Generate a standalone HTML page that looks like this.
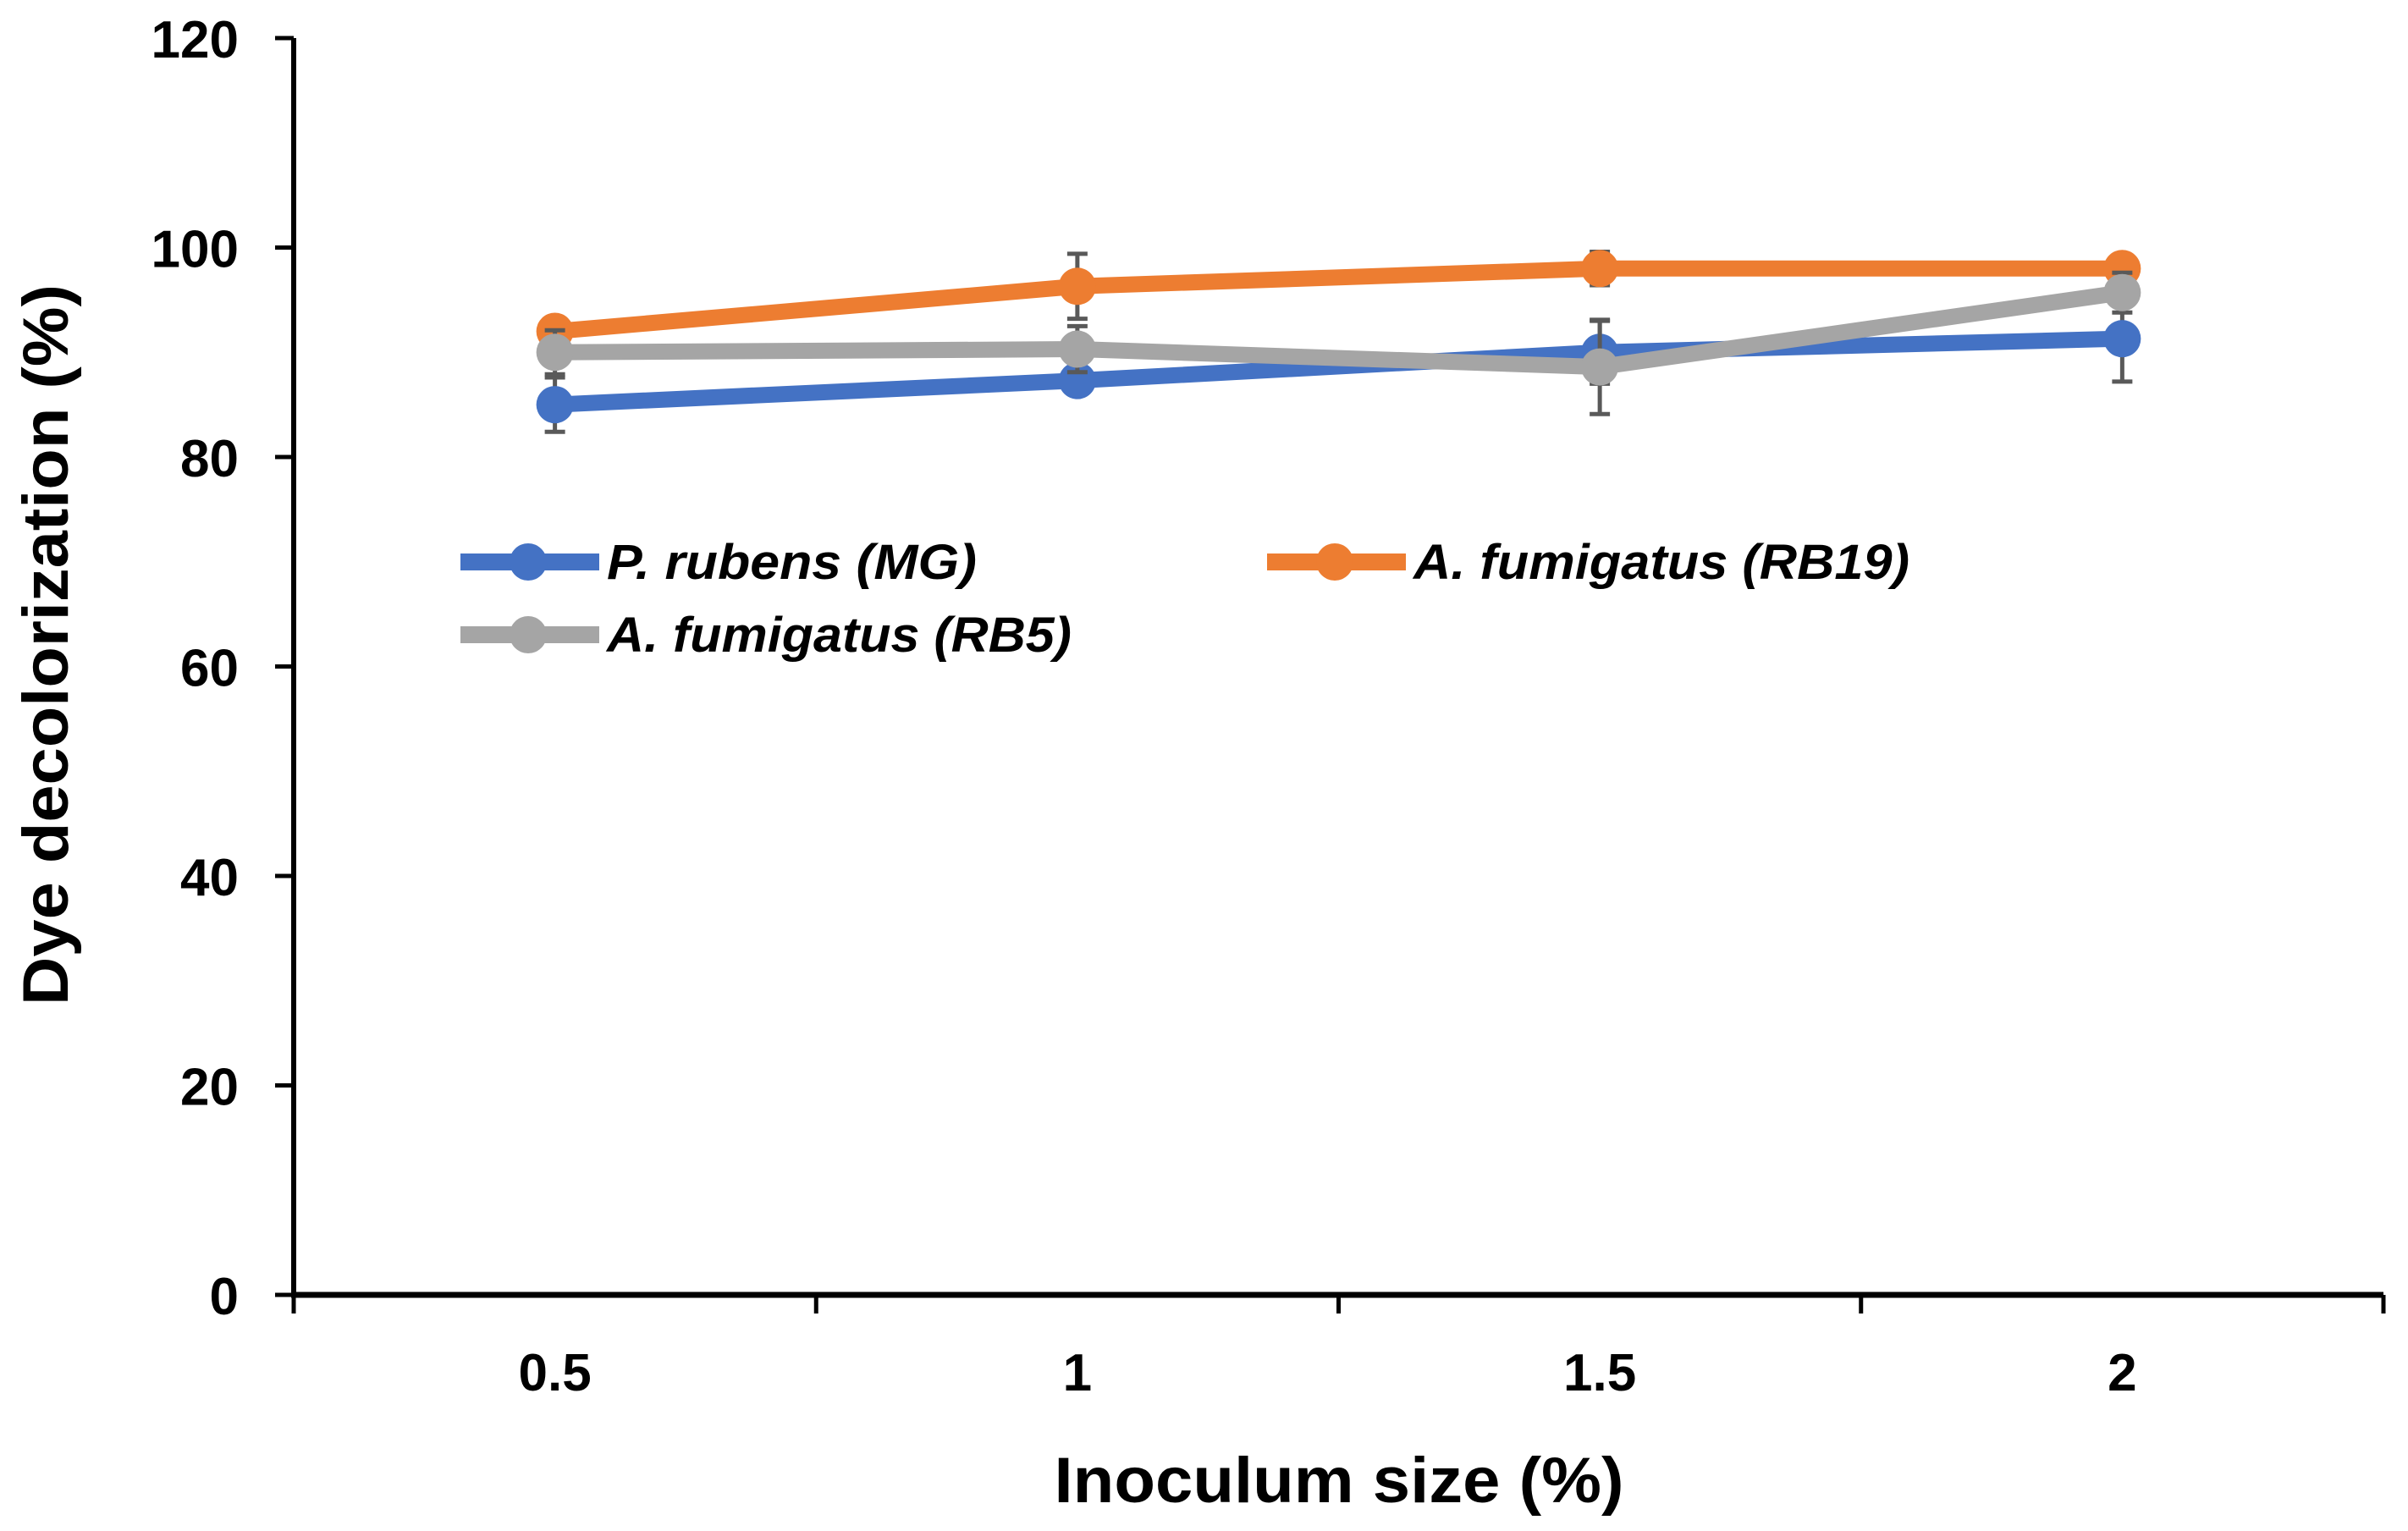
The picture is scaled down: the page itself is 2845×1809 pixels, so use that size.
<!DOCTYPE html>
<html><head><meta charset="utf-8"><style>
html,body{margin:0;padding:0;background:#fff}
svg{display:block}
text{font-family:"Liberation Sans",sans-serif;font-weight:bold;fill:#000}
</style></head><body>
<svg id="chart" width="2845" height="1809" viewBox="0 0 2845 1809" xmlns="http://www.w3.org/2000/svg">
<g id="axes"></g><g id="series"></g><g id="legend"></g>
<text x="1582" y="1775" font-size="76" text-anchor="middle" textLength="673" lengthAdjust="spacingAndGlyphs">Inoculum size (%)</text>
<text transform="translate(80,762) rotate(-90)" font-size="76" text-anchor="middle" textLength="852" lengthAdjust="spacingAndGlyphs">Dye decolorization (%)</text>
</svg>
<script>
const categories = ["0.5","1","1.5","2"];
const yTicks = [0,20,40,60,80,100,120];
const seriesNames = ["P. rubens (MG)","A. fumigatus (RB19)","A. fumigatus (RB5)"];
const blueValues = [85,87.3,90,91.3];
const orangeValues = [92,96.3,98,98];
const grayValues = [90,90.3,88.6,95.7];
const blueErrors = [2.6,0.6,3,4.1];
const orangeErrors = [0.6,3.1,1.6,0.6];
const grayErrors = [2.1,2.2,4.5,1.9];

const NS="http://www.w3.org/2000/svg";
const X0=347,X1=2816,Y0=1530,Y120=45;
const band=(X1-X0)/categories.length;
function xs(i){return X0+band*(i+0.5);}
function ys(v){return Y0+(Y120-Y0)*v/120;}
function mk(tag,attrs,parent){const e=document.createElementNS(NS,tag);for(const k in attrs)e.setAttribute(k,attrs[k]);parent.appendChild(e);return e;}
const axes=document.getElementById('axes');
let yl=mk('line',{x1:X0,y1:Y120,x2:X0,y2:Y0,stroke:'#000','stroke-width':6},axes);


let xl=mk('line',{x1:X0-3,y1:Y0,x2:X1,y2:Y0,stroke:'#000','stroke-width':7},axes);


yTicks.forEach(v=>{
  const y=ys(v);
  let t=mk('line',{x1:X0-22,y1:y,x2:X0,y2:y,stroke:'#000','stroke-width':5},axes);
  
  
  let l=mk('text',{x:282,y:y+23,'font-size':62,'text-anchor':'end'},axes);
  l.textContent=v;
  
  
});
for(let i=0;i<=categories.length;i++){
  const x=X0+band*i;
  let t=mk('line',{x1:x,y1:Y0,x2:x,y2:Y0+22,stroke:'#000','stroke-width':5},axes);
  
  
}
categories.forEach((c,i)=>{
  let l=mk('text',{x:xs(i),y:1643,'font-size':62,'text-anchor':'middle'},axes);
  l.textContent=c;
  
  
});
const ser=document.getElementById('series');
const all=[[blueValues,blueErrors,'#4472C4'],[orangeValues,orangeErrors,'#ED7D31'],[grayValues,grayErrors,'#A5A5A5']];
const names=['series-p-rubens-mg','series-a-fumigatus-rb19','series-a-fumigatus-rb5'];
all.forEach(([vals,errs,col],s)=>{
  const g=mk('g',{},ser);
  
  
  vals.forEach((v,i)=>{
    const x=xs(i),a=ys(v+errs[i]),b=ys(v-errs[i]);
    const e=mk('path',{d:`M${x},${a}V${b}M${x-12},${a}H${x+12}M${x-12},${b}H${x+12}`,stroke:'#595959','stroke-width':5,fill:'none'},g);
    
    
  });
  const p=mk('polyline',{points:vals.map((v,i)=>xs(i)+','+ys(v)).join(' '),fill:'none',stroke:col,'stroke-width':19,'stroke-linejoin':'round'},g);
  
  
  vals.forEach((v,i)=>{
    const c=mk('circle',{cx:xs(i),cy:ys(v),r:22,fill:col},g);
    
    
  });
});
const leg=document.getElementById('legend');
const legPos=[[544,664,437],[1497,664,586],[544,750,549]];
const cols=['#4472C4','#ED7D31','#A5A5A5'];
seriesNames.forEach((n,i)=>{
  const [lx,cy,w]=legPos[i];
  const g=mk('g',{},leg);
  
  
  mk('line',{x1:lx,y1:cy,x2:lx+164,y2:cy,stroke:cols[i],'stroke-width':20},g);
  mk('circle',{cx:lx+80,cy:cy,r:22,fill:cols[i]},g);
  const t=mk('text',{x:lx+173,y:cy+20,'font-size':58,'font-style':'italic',textLength:w,lengthAdjust:'spacingAndGlyphs'},g);
  t.textContent=n;
});
</script>
</body></html>
